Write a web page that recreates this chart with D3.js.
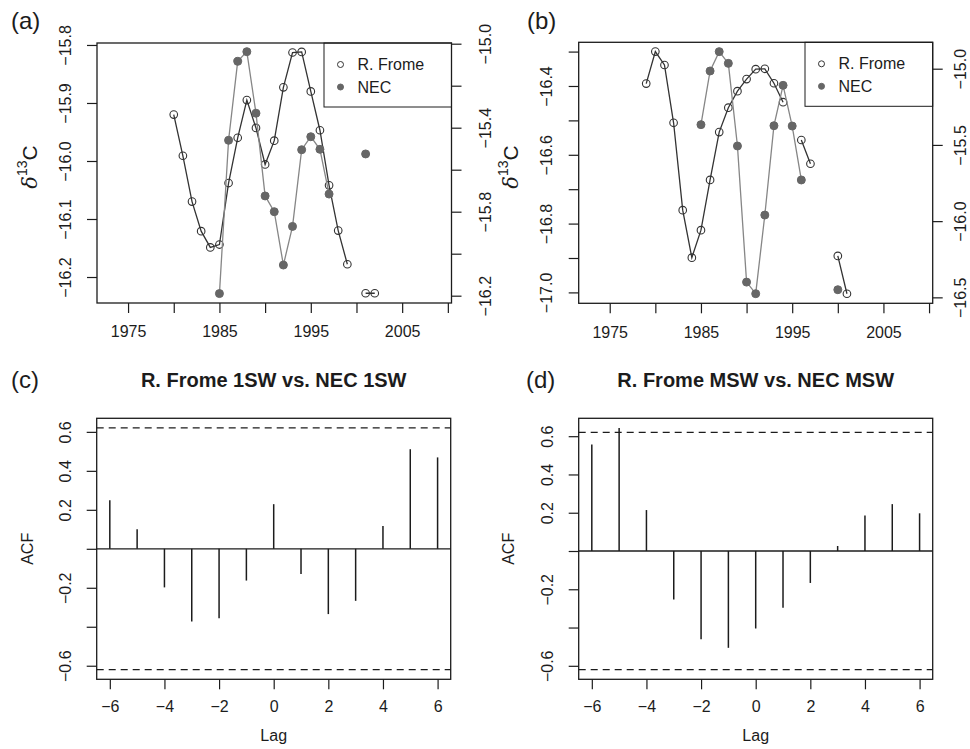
<!DOCTYPE html>
<html>
<head>
<meta charset="utf-8">
<script src="https://cdn.jsdelivr.net/npm/d3@7"></script>
<style>
  body { margin: 0; background: #fff; }
  svg { display: block; font-family: "Liberation Sans", Arial, sans-serif; }
</style>
</head>
<body>
<svg id="fig" width="970" height="749"></svg>
<script>
// ---- data ----
const yearsA = [1980, 1981, 1982, 1983, 1984, 1985, 1986, 1987, 1988, 1989, 1990, 1991,
  1992, 1993, 1994, 1995, 1996, 1997, 1998, 1999, 2000, 2001, 2002];
const fromeA = [-15.92, -15.991, -16.07, -16.121, -16.149, -16.144, -16.038, -15.96, -15.895,
  -15.943, -16.006, -15.965, -15.873, -15.813, -15.812, -15.88, -15.947, -16.042, -16.12,
  -16.178, null, -16.228, -16.228];
const necA = [null, null, null, null, null, -16.19, -15.46, -15.084, -15.038, -15.331, -15.725,
  -15.8, -16.054, -15.87, -15.505, -15.443, -15.503, -15.716, null, null, null, -15.525, null];

const yearsB = [1979, 1980, 1981, 1982, 1983, 1984, 1985, 1986, 1987, 1988, 1989, 1990,
  1991, 1992, 1993, 1994, 1995, 1996, 1997, 1998, 1999, 2000, 2001];
const fromeB = [-16.393, -16.3, -16.339, -16.507, -16.761, -16.899, -16.819, -16.673, -16.534,
  -16.463, -16.415, -16.38, -16.351, -16.35, -16.392, -16.447, null, -16.557, -16.626, null,
  null, -16.894, -17.004];
const necB = [null, null, null, null, null, null, -15.367, -15.015, -14.888, -14.965, -15.507,
  -16.4, -16.476, -15.96, -15.374, -15.109, -15.376, -15.73, null, null, null, -16.45, null];

const lags = [-6, -5, -4, -3, -2, -1, 0, 1, 2, 3, 4, 5, 6];
const acf1SW = [0.249, 0.10, -0.198, -0.373, -0.356, -0.163, 0.229, -0.129, -0.335, -0.267,
  0.117, 0.511, 0.469];
const acfMSW = [0.557, 0.643, 0.214, -0.254, -0.461, -0.506, -0.405, -0.297, -0.167, 0.026,
  0.186, 0.245, 0.197];
const ciLevel = 0.62;

// ticks and labels
const yearTicks = [1975, 1980, 1985, 1990, 1995, 2000, 2005, 2010];
const yearLabels = [1975, 1985, 1995, 2005];
const leftTicksA = [-15.8, -15.9, -16.0, -16.1, -16.2];
const leftLabelsA = [-15.8, -15.9, -16.0, -16.1, -16.2];
const rightTicksA = [-15.0, -15.2, -15.4, -15.6, -15.8, -16.0, -16.2];
const rightLabelsA = [-15.0, -15.4, -15.8, -16.2];
const leftTicksB = [-16.3, -16.4, -16.5, -16.6, -16.7, -16.8, -16.9, -17.0];
const leftLabelsB = [-16.4, -16.6, -16.8, -17.0];
const rightTicksB = [-15.0, -15.5, -16.0, -16.5];
const rightLabelsB = [-15.0, -15.5, -16.0, -16.5];
const lagTicks = [-6, -4, -2, 0, 2, 4, 6];
const acfTicks = [0.6, 0.4, 0.2, 0, -0.2, -0.4, -0.6];
const acfLabels = [0.6, 0.4, 0.2, -0.2, -0.6];
const legendNames = ['R. Frome', 'NEC'];

// ---- drawing ----
const ink = '#1c1c1c';
const fromeCol = '#333';
const necLine = '#868686';
const necFill = '#666';
const svg = d3.select('#fig');
const fmt1 = d3.format('.1f');

const has = (list, d) => list.some(v => Math.abs(v - d) < 1e-9);

function styleAxis(g, rotate, offset) {
  g.attr('font-family', null).attr('font-size', 16).attr('fill', ink);
  g.select('.domain').remove();
  g.selectAll('.tick line').attr('stroke', ink).attr('stroke-width', 1.2);
  g.selectAll('.tick text').attr('fill', ink);
  if (rotate) {
    g.selectAll('.tick text')
      .attr('x', 0).attr('y', 0).attr('dy', '0.35em')
      .attr('text-anchor', 'middle')
      .attr('transform', `translate(${offset},0) rotate(-90)`);
  }
}

function frame(box) {
  svg.append('rect')
    .attr('x', box.x0).attr('y', box.y0)
    .attr('width', box.x1 - box.x0).attr('height', box.y1 - box.y0)
    .attr('fill', 'none').attr('stroke', ink).attr('stroke-width', 1.3);
}

function panelTag(txt, x, y) {
  svg.append('text').attr('x', x).attr('y', y).attr('dy', '0.35em')
    .attr('font-size', 24).attr('fill', ink).text(txt);
}

function deltaLabel(x, y) {
  const t = svg.append('text')
    .attr('transform', `translate(${x},${y}) rotate(-90)`)
    .attr('text-anchor', 'middle').attr('dy', '0.35em')
    .attr('font-size', 21).attr('fill', ink);
  t.append('tspan').attr('font-style', 'italic').attr('font-family', '"DejaVu Serif", serif').text('δ');
  t.append('tspan').attr('font-size', 14).attr('dy', '-0.75em').text('13');
  t.append('tspan').attr('dy', '0.5em').text('C');
}

function isotopePanel(p) {
  const { box } = p;
  const x = d3.scaleLinear().domain([1971.6, 2010.4]).range([box.x0, box.x1]);
  const yL = d3.scaleLinear().domain(p.leftDomain).range([box.y0, box.y1]);
  const yR = d3.scaleLinear().domain(p.rightDomain).range([box.y0, box.y1]);

  svg.append('g').attr('transform', `translate(0,${box.y1})`)
    .call(d3.axisBottom(x).tickValues(yearTicks).tickSize(10).tickPadding(13)
      .tickFormat(d => has(yearLabels, d) ? d : ''))
    .call(g => styleAxis(g, false));

  svg.append('g').attr('transform', `translate(${box.x0},0)`)
    .call(d3.axisLeft(yL).tickValues(p.leftTicks).tickSize(10)
      .tickFormat(d => has(p.leftLabels, d) ? fmt1(d) : ''))
    .call(g => styleAxis(g, true, -32));

  svg.append('g').attr('transform', `translate(${box.x1},0)`)
    .call(d3.axisRight(yR).tickValues(p.rightTicks).tickSize(10)
      .tickFormat(d => has(p.rightLabels, d) ? fmt1(d) : ''))
    .call(g => styleAxis(g, true, p.rightOff));

  const fr = p.years.map((yr, i) => ({ yr, v: p.frome[i] }));
  const ne = p.years.map((yr, i) => ({ yr, v: p.nec[i] }));

  const lineL = d3.line().defined(d => d.v != null).x(d => x(d.yr)).y(d => yL(d.v));
  const lineR = d3.line().defined(d => d.v != null).x(d => x(d.yr)).y(d => yR(d.v));

  svg.append('path').datum(fr).attr('d', lineL)
    .attr('fill', 'none').attr('stroke', fromeCol).attr('stroke-width', 1.3);
  svg.append('g').selectAll('circle').data(fr.filter(d => d.v != null)).join('circle')
    .attr('cx', d => x(d.yr)).attr('cy', d => yL(d.v)).attr('r', 3.8)
    .attr('fill', 'none').attr('stroke', fromeCol).attr('stroke-width', 1.1);

  svg.append('path').datum(ne).attr('d', lineR)
    .attr('fill', 'none').attr('stroke', necLine).attr('stroke-width', 1.3);
  svg.append('g').selectAll('circle').data(ne.filter(d => d.v != null)).join('circle')
    .attr('cx', d => x(d.yr)).attr('cy', d => yR(d.v)).attr('r', 4)
    .attr('fill', necFill).attr('stroke', necFill);

  // legend
  const lg = svg.append('g');
  lg.append('rect')
    .attr('x', p.legendX).attr('y', box.y0)
    .attr('width', box.x1 - p.legendX).attr('height', 64)
    .attr('fill', '#fff').attr('stroke', ink).attr('stroke-width', 1);
  const rows = lg.selectAll('g.row').data(legendNames).join('g')
    .attr('transform', (d, i) => `translate(${p.legendX + 16.5},${box.y0 + 21.5 + i * 22.5})`);
  rows.append('circle').attr('r', 3)
    .attr('fill', (d, i) => i === 0 ? 'none' : necFill)
    .attr('stroke', (d, i) => i === 0 ? fromeCol : necFill);
  rows.append('text').attr('x', 17).attr('dy', '0.35em')
    .attr('font-size', 16).attr('fill', ink).text(d => d);

  frame(box);
  deltaLabel(p.ylabX, 167);
  panelTag(p.tag, p.tagX, 21);
}

function acfPanel(p) {
  const { box } = p;
  const lo = Math.min(d3.min(p.values), -ciLevel);
  const hi = Math.max(d3.max(p.values), ciLevel);
  const pad = (hi - lo) * 0.04;
  const x = d3.scaleLinear().domain([-6.48, 6.48]).range([box.x0, box.x1]);
  const y = d3.scaleLinear().domain([hi + pad, lo - pad]).range([box.y0, box.y1]);

  svg.append('g').attr('transform', `translate(0,${box.y1})`)
    .call(d3.axisBottom(x).tickValues(lagTicks).tickSize(10).tickPadding(11)
      .tickFormat(d => d3.format('d')(d)))
    .call(g => styleAxis(g, false));

  svg.append('g').attr('transform', `translate(${box.x0},0)`)
    .call(d3.axisLeft(y).tickValues(acfTicks).tickSize(10)
      .tickFormat(d => has(acfLabels, d) ? fmt1(d) : ''))
    .call(g => styleAxis(g, true, -31));

  svg.append('line')
    .attr('x1', box.x0).attr('x2', box.x1).attr('y1', y(0)).attr('y2', y(0))
    .attr('stroke', ink).attr('stroke-width', 1.3);

  svg.append('g').selectAll('line').data([ciLevel, -ciLevel]).join('line')
    .attr('x1', box.x0).attr('x2', box.x1)
    .attr('y1', d => y(d)).attr('y2', d => y(d))
    .attr('stroke', ink).attr('stroke-width', 1.2).attr('stroke-dasharray', '7,5');

  svg.append('g').selectAll('line').data(lags.map((l, i) => ({ l, v: p.values[i] }))).join('line')
    .attr('x1', d => x(d.l)).attr('x2', d => x(d.l))
    .attr('y1', y(0)).attr('y2', d => y(d.v))
    .attr('stroke', ink).attr('stroke-width', 1.5);

  frame(box);

  svg.append('text').attr('x', (box.x0 + box.x1) / 2).attr('y', 380).attr('dy', '0.35em')
    .attr('text-anchor', 'middle').attr('font-size', 20).attr('font-weight', 'bold')
    .attr('fill', ink).text(p.title);
  svg.append('text').attr('x', (box.x0 + box.x1) / 2).attr('y', 735).attr('dy', '0.35em')
    .attr('text-anchor', 'middle').attr('font-size', 16).attr('fill', ink).text('Lag');
  svg.append('text')
    .attr('transform', `translate(${p.ylabX},${(box.y0 + box.y1) / 2}) rotate(-90)`)
    .attr('text-anchor', 'middle').attr('dy', '0.35em')
    .attr('font-size', 16).attr('fill', ink).text('ACF');
  panelTag(p.tag, p.tagX, 380);
}

isotopePanel({
  box: { x0: 97, x1: 451.5, y0: 43, y1: 303 },
  leftDomain: [-15.7966, -16.2448], rightDomain: [-14.9967, -16.2348],
  leftTicks: leftTicksA, leftLabels: leftLabelsA,
  rightTicks: rightTicksA, rightLabels: rightLabelsA, rightOff: 34,
  years: yearsA, frome: fromeA, nec: necA,
  legendX: 324, ylabX: 30, tag: '(a)', tagX: 11
});

isotopePanel({
  box: { x0: 578.7, x1: 932.7, y0: 42.3, y1: 303.3 },
  leftDomain: [-16.273, -17.0317], rightDomain: [-14.8268, -16.539],
  leftTicks: leftTicksB, leftLabels: leftLabelsB,
  rightTicks: rightTicksB, rightLabels: rightLabelsB, rightOff: 28,
  years: yearsB, frome: fromeB, nec: necB,
  legendX: 805, ylabX: 511, tag: '(b)', tagX: 527
});

acfPanel({
  box: { x0: 96.7, x1: 450.7, y0: 418.3, y1: 679.3 },
  values: acf1SW, title: 'R. Frome 1SW vs. NEC 1SW',
  ylabX: 27, tag: '(c)', tagX: 11
});

acfPanel({
  box: { x0: 578.7, x1: 932.7, y0: 418.3, y1: 679.3 },
  values: acfMSW, title: 'R. Frome MSW vs. NEC MSW',
  ylabX: 508, tag: '(d)', tagX: 526
});
</script>
</body>
</html>
